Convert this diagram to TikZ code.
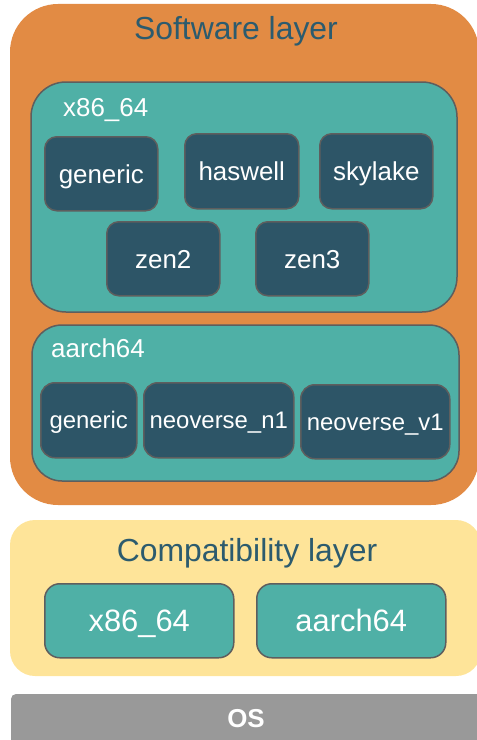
\documentclass[tikz,border=0pt]{standalone}
\usepackage{fontspec}
\setmainfont{Liberation Sans}
\definecolor{swOrange}{HTML}{E28B44}
\definecolor{archTeal}{HTML}{4FB0A6}
\definecolor{tgtDark}{HTML}{2D5567}
\definecolor{compatYellow}{HTML}{FEE499}
\definecolor{osGray}{HTML}{999999}
\definecolor{edgeGray}{HTML}{5E5E5E}
\definecolor{titleBlue}{HTML}{2C5B6E}
\tikzset{
  layer/.style={draw=none, rounded corners=#1},
  archbox/.style={draw=edgeGray, line width=1.5bp, fill=archTeal, rounded corners=#1},
  fs/.style={font=\fontsize{#1}{#1}\selectfont},
  % font size with the text box cut to the cap height, so labels sit centred on their capitals
  cfs/.style={font=\fontsize{#1}{#1}\selectfont, text height=0.716*#1 bp, text depth=0pt},
  tgt/.style={draw=edgeGray, line width=1.5bp, fill=tgtDark, rounded corners=12bp,
    text=white, inner sep=0pt, anchor=north west},
  title/.style={text=titleBlue, fs=32, anchor=base, inner sep=0pt},
  archlabel/.style={text=white, fs=26, anchor=base west, inner sep=0pt},
  compatarch/.style={draw=edgeGray, line width=1.5bp, fill=archTeal, rounded corners=15bp,
    text=white, cfs=31, inner sep=0pt, anchor=north west,
    minimum width=189bp, minimum height=74bp},
}
\begin{document}
\begin{tikzpicture}[x=1bp, y=-1bp]
\useasboundingbox (0,0) rectangle (477,740);

% software layer
\path[layer=48bp, fill=swOrange] (10,4) rectangle (479,505);
\node[title] (swtitle) at (236,40) {Software layer};

% x86_64 targets
\path[archbox=35bp] (31,82) rectangle (457,312);
\node[archlabel] (x86lbl) at (63,116) {x86\_64};
\node[tgt, cfs=26, minimum width=113bp, minimum height=74bp] (xgen) at (44,136) {generic};
\node[tgt, cfs=26, minimum width=114bp, minimum height=75bp] (xhas) at (184,133) {haswell};
\node[tgt, cfs=26, minimum width=113bp, minimum height=75bp] (xsky) at (319,133) {skylake};
\node[tgt, cfs=26, minimum width=113bp, minimum height=74bp] (xzen2) at (106,221) {zen2};
\node[tgt, cfs=26, minimum width=113bp, minimum height=74bp] (xzen3) at (255,221) {zen3};

% aarch64 targets
\path[archbox=30bp] (32,325) rectangle (459,481);
\node[archlabel] (armlbl) at (51,357) {aarch64};
\node[tgt, cfs=24, rounded corners=14bp, minimum width=96bp, minimum height=75bp] (agen) at (40,382) {generic};
\node[tgt, cfs=24, rounded corners=14bp, minimum width=150bp, minimum height=75bp] (an1) at (143,382) {neoverse\_n1};
\node[tgt, cfs=24, rounded corners=14bp, minimum width=149bp, minimum height=74bp] (av1) at (300,384) {neoverse\_v1};

% compatibility layer
\path[layer=25bp, fill=compatYellow] (10,520) rectangle (481,676);
\node[title] (cptitle) at (247,561) {Compatibility layer};
\node[compatarch] (cx86) at (44,583) {x86\_64};
\node[compatarch] (carm) at (256,583) {aarch64};

% operating system
\path[layer=5bp, fill=osGray] (11,694) rectangle (484,748);
\node[text=white, font=\fontsize{26}{26}\selectfont\bfseries, text height=18.6bp, text depth=0pt,
  inner sep=0pt] (os) at (246,718) {OS};
\end{tikzpicture}
\end{document}
